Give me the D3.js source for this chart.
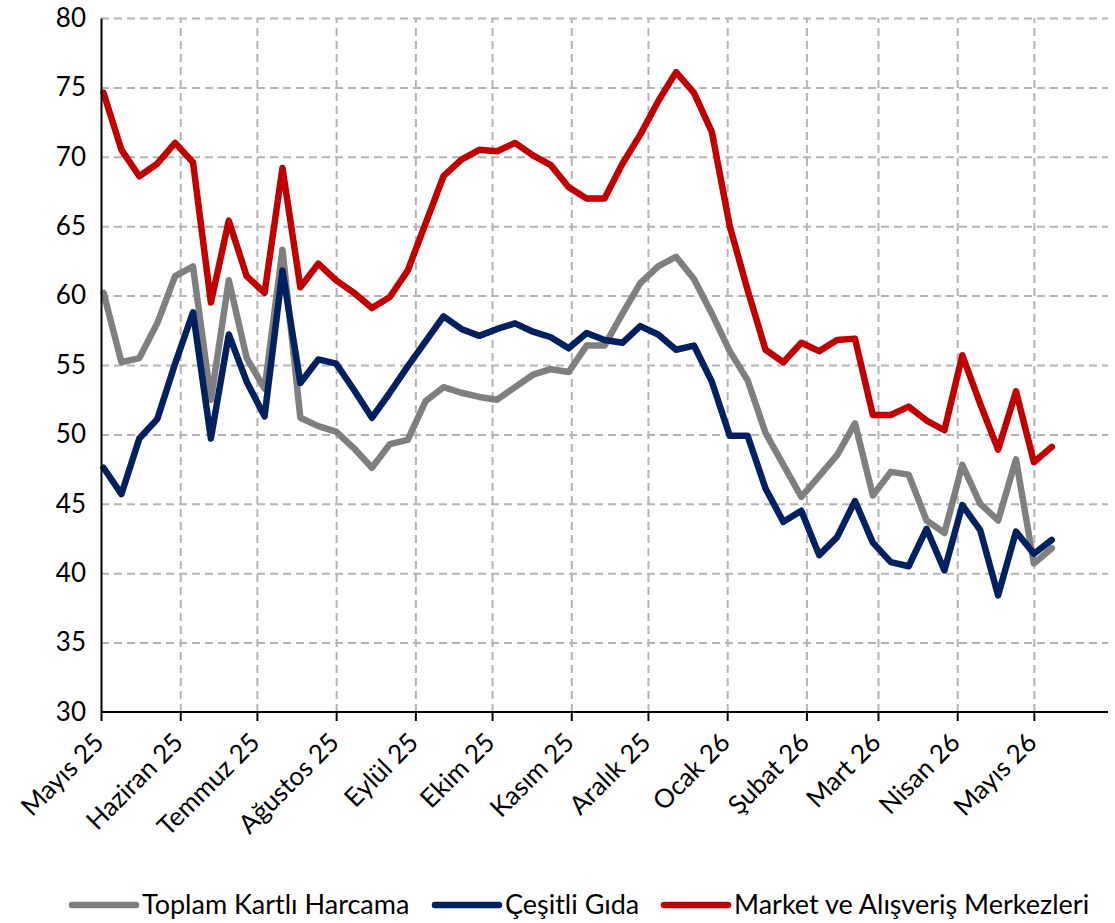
<!DOCTYPE html>
<html>
<head>
<meta charset="utf-8">
<script src="https://cdn.jsdelivr.net/npm/d3@7"></script>
<style>
  body{margin:0;background:#fff}
  svg{display:block}
  text{font-family:Lato,"Open Sans",sans-serif;fill:#000}
</style>
</head>
<body>
<svg></svg>
<script>
// weekly dates (friday)
let dates=[
  "2025-05-02","2025-05-09","2025-05-16","2025-05-23","2025-05-30",
  "2025-06-06","2025-06-13","2025-06-20","2025-06-27",
  "2025-07-04","2025-07-11","2025-07-18","2025-07-25",
  "2025-08-01","2025-08-08","2025-08-15","2025-08-22","2025-08-29",
  "2025-09-05","2025-09-12","2025-09-19","2025-09-26",
  "2025-10-03","2025-10-10","2025-10-17","2025-10-24","2025-10-31",
  "2025-11-07","2025-11-14","2025-11-21","2025-11-28",
  "2025-12-05","2025-12-12","2025-12-19","2025-12-26",
  "2026-01-02","2026-01-09","2026-01-16","2026-01-23","2026-01-30",
  "2026-02-06","2026-02-13","2026-02-20","2026-02-27",
  "2026-03-06","2026-03-13","2026-03-20","2026-03-27",
  "2026-04-03","2026-04-10","2026-04-17","2026-04-24",
  "2026-05-01","2026-05-08"
]

let toplam=[
  60.2,55.2,55.5,58.0,61.4,62.1,52.5,61.1,55.5,53.3,
  63.3,51.2,50.6,50.2,49.0,47.6,49.3,49.6,52.4,53.4,
  53.0,52.7,52.5,53.4,54.3,54.7,54.5,56.4,56.4,58.7,
  60.9,62.1,62.8,61.2,58.7,56.0,53.9,50.1,47.8,45.5,
  47.0,48.5,50.8,45.6,47.3,47.1,43.8,42.9,47.8,45.0,
  43.8,48.2,40.7,41.8
]
let cesitliGida=[
  47.6,45.7,49.7,51.1,55.1,58.8,49.7,57.2,53.8,51.3,
  61.8,53.7,55.4,55.1,53.2,51.2,53.0,54.9,56.7,58.5,
  57.6,57.1,57.6,58.0,57.4,57.0,56.2,57.3,56.8,56.6,
  57.8,57.2,56.1,56.4,53.8,49.9,49.9,46.1,43.7,44.5,
  41.3,42.6,45.2,42.2,40.8,40.5,43.2,40.2,44.9,43.1,
  38.4,43.0,41.4,42.4
]
let market=[
  74.6,70.5,68.6,69.5,71.0,69.6,59.5,65.4,61.4,60.2,
  69.2,60.6,62.3,61.1,60.2,59.1,59.9,61.8,65.2,68.6,
  69.8,70.5,70.4,71.0,70.1,69.4,67.8,67.0,67.0,69.5,
  71.6,74.0,76.1,74.6,71.8,65.0,60.4,56.1,55.2,56.6,
  56.0,56.8,56.9,51.4,51.4,52.0,51.0,50.3,55.7,52.2,
  48.9,53.1,48.0,49.1
]

let monthLabels=["Mayıs 25","Haziran 25","Temmuz 25","Ağustos 25","Eylül 25","Ekim 25","Kasım 25",
  "Aralık 25","Ocak 26","Şubat 26","Mart 26","Nisan 26","Mayıs 26"]
let yTicks=[30,35,40,45,50,55,60,65,70,75,80]

let seriesNames=["Toplam Kartlı Harcama","Çeşitli Gıda","Market ve Alışveriş Merkezleri"]
let seriesColors=["#7f7f7f","#002060","#c00000"]

let width=1115
let height=923
let plotLeft=101
let plotRight=1108
let plotTop=18
let plotBottom=712

let parse=d3.timeParse("%Y-%m-%d")
let svg=d3.select('svg').attr('width',width).attr('height',height)

let xScale=d3.scaleTime()
  .domain([new Date(2025,4,1),new Date(2026,4,30)])
  .range([plotLeft,plotRight])
let yScale=d3.scaleLinear()
  .domain([30,80])
  .range([plotBottom,plotTop])

let monthTicks=d3.timeMonth.range(new Date(2025,4,1),new Date(2026,4,2))

// grid
svg.append('g')
  .attr('transform','translate('+plotLeft+',0)')
  .call(d3.axisLeft(yScale).tickValues(yTicks.slice(1)).tickSize(-(plotRight-plotLeft)).tickFormat(''))
  .call(g=>g.select('.domain').remove())
  .selectAll('line')
  .attr('stroke','#b4b4b4').attr('stroke-width',2).attr('stroke-dasharray','8,5')

svg.append('g')
  .attr('transform','translate(0,'+plotBottom+')')
  .call(d3.axisBottom(xScale).tickValues(monthTicks.slice(1)).tickSize(-(plotBottom-plotTop)).tickFormat(''))
  .call(g=>g.select('.domain').remove())
  .selectAll('line')
  .attr('stroke','#b4b4b4').attr('stroke-width',2).attr('stroke-dasharray','8,5')

// lines
let allSeries=[toplam,cesitliGida,market]
let line=d3.line()
  .x((d,i)=>xScale(parse(dates[i])))
  .y(d=>yScale(d))

allSeries.forEach((s,k)=>{
  svg.append('path')
    .datum(s)
    .attr('d',line)
    .attr('fill','none')
    .attr('stroke',seriesColors[k])
    .attr('stroke-width',6.5)
    .attr('stroke-linejoin','round')
    .attr('stroke-linecap','round')
})

// axes
let yAxis=svg.append('g')
  .attr('transform','translate('+plotLeft+',0)')
  .call(d3.axisLeft(yScale).tickValues(yTicks).tickSize(0).tickPadding(15))
yAxis.select('.domain').attr('stroke','#000').attr('stroke-width',2)
yAxis.selectAll('text').style('font-size','26px')

let xAxis=svg.append('g')
  .attr('transform','translate(0,'+plotBottom+')')
  .call(d3.axisBottom(xScale).tickValues(monthTicks).tickSize(9).tickFormat((d,i)=>monthLabels[i]))
xAxis.select('.domain').attr('stroke','#000').attr('stroke-width',2).attr('d','M'+plotLeft+',0H'+plotRight)
xAxis.selectAll('.tick line').attr('stroke','#000').attr('stroke-width',2)
xAxis.selectAll('text')
  .style('font-size','26px')
  .attr('text-anchor','end')
  .attr('dy',0)
  .attr('y',0)
  .attr('transform','translate(4,32) rotate(-45)')

// legend
let legendX=[72,435,664]
let legend=svg.append('g')
seriesNames.forEach((n,k)=>{
  legend.append('line')
    .attr('x1',legendX[k]).attr('x2',legendX[k]+64)
    .attr('y1',905).attr('y2',905)
    .attr('stroke',seriesColors[k]).attr('stroke-width',6.5).attr('stroke-linecap','round')
  legend.append('text')
    .attr('x',legendX[k]+70).attr('y',905)
    .attr('dy','0.35em')
    .style('font-size','27px')
    .text(n)
})
</script>
</body>
</html>
